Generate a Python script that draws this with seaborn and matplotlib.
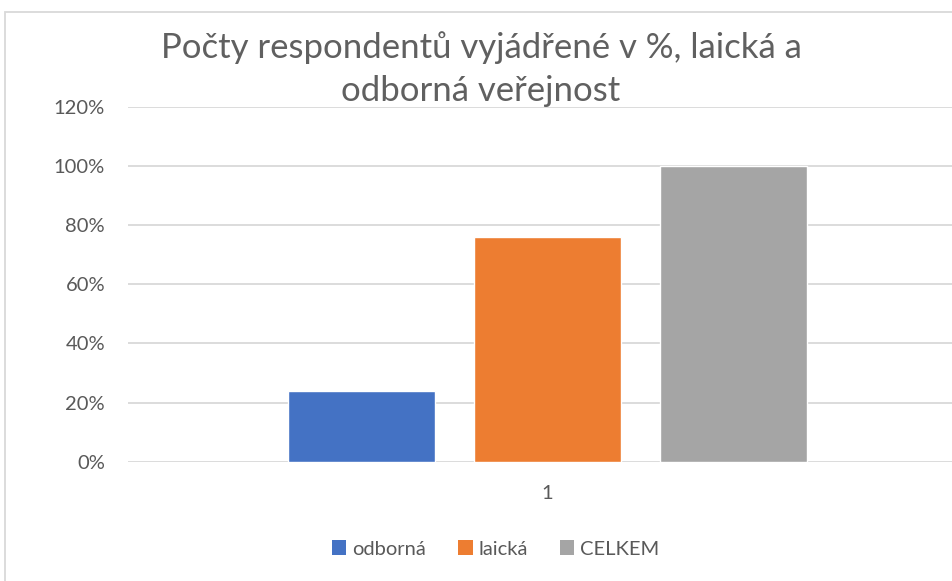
import matplotlib
matplotlib.use("Agg")
import matplotlib.pyplot as plt
from matplotlib.patches import Rectangle, Patch
import seaborn as sns
import pandas as pd

# Data
categories = ["1", "1", "1"]
series = ["odborná", "laická", "CELKEM"]
values = [24, 76, 100]
colors = ["#4472C4", "#ED7D31", "#A5A5A5"]
yticks = [0, 20, 40, 60, 80, 100, 120]
title = "Počty respondentů vyjádřené v %, laická a\nodborná veřejnost"

df = pd.DataFrame({"kategorie": categories, "řada": series, "hodnota": values})

sns.set_theme(style="white")
plt.rcParams["font.family"] = ["Lato", "DejaVu Sans"]

W, H = 953, 581
fig = plt.figure(figsize=(W / 100, H / 100), dpi=100)
ax = fig.add_axes([128 / W, 119.3 / H, (W - 128) / W, (474 - 119.3) / H])

sns.barplot(data=df, x="kategorie", y="hodnota", hue="řada", hue_order=series,
            palette=colors, width=0.8, gap=0.21, saturation=1, ax=ax,
            legend=False, zorder=3)

ax.set_xlim(-0.6014, 0.5814)
ax.set_ylim(0, 120)
ax.set_yticks(yticks)
ax.set_yticklabels([f"{v}%" for v in yticks])
ax.yaxis.grid(True, color="#D9D9D9", linewidth=1.3, zorder=0)
ax.set_axisbelow(True)
for s in ax.spines.values():
    s.set_visible(False)
ax.set_xlabel("")
ax.set_ylabel("")
ax.tick_params(axis="y", length=0, pad=16.5, labelsize=14.5, labelcolor="#595959")
ax.tick_params(axis="x", length=0, pad=17, labelsize=14.5, labelcolor="#595959")

fig.text(481 / W, 512 / H, title, ha="center", va="center", fontsize=25,
         color="#606060", fontweight="normal", linespacing=1.4)

handles = [Patch(facecolor=c, edgecolor="none", label=s) for s, c in zip(series, colors)]
leg = fig.legend(handles=handles, loc="center", bbox_to_anchor=(496 / W, 32 / H),
                 ncol=3, frameon=False, fontsize=14.5, handlelength=0.7,
                 handleheight=0.7, handletextpad=0.3, columnspacing=1.6)
for t in leg.get_texts():
    t.set_color("#595959")

fig.patches.append(Rectangle((5.5 / W, -0.1), 1.2, (H - 12) / H + 0.1,
                             transform=fig.transFigure, fill=False,
                             edgecolor="#D9D9D9", linewidth=1.3))

fig.savefig("out.png", dpi=100, facecolor="white")
